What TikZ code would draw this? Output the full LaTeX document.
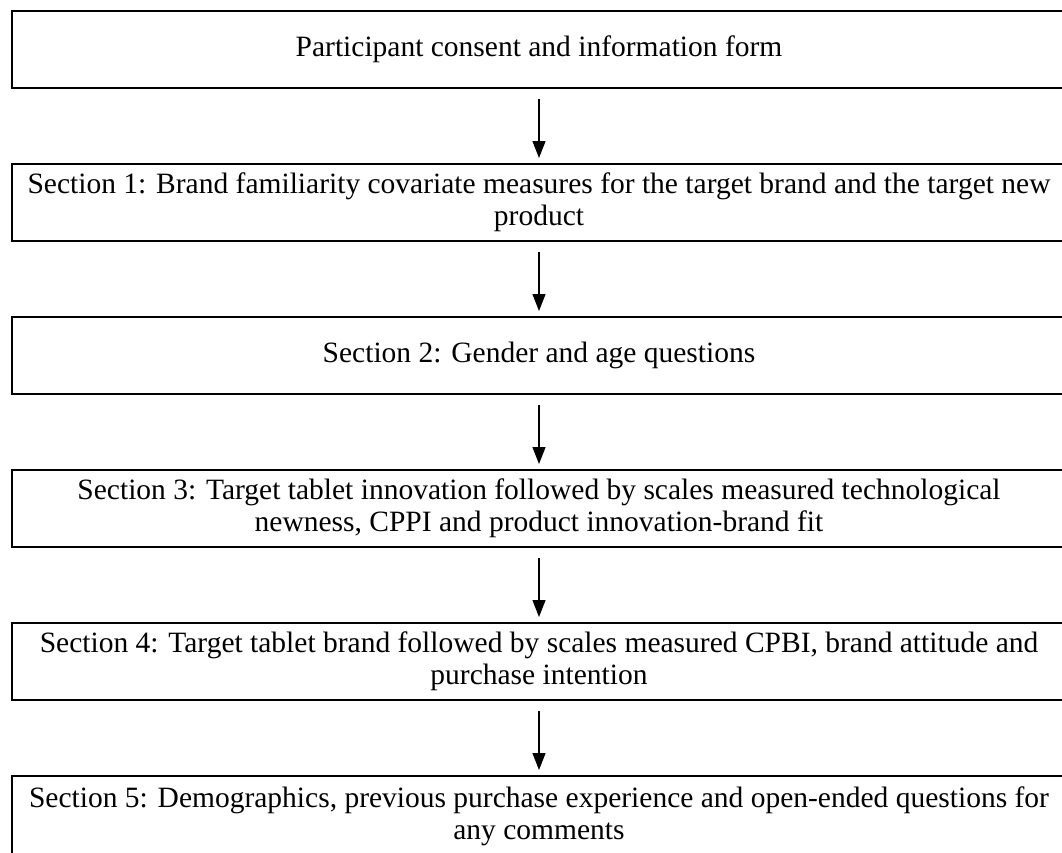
\documentclass[tikz,border=0pt]{standalone}
\usepackage{fontspec}
\setmainfont{Liberation Serif}
\usetikzlibrary{arrows.meta}
\begin{document}
\begin{tikzpicture}[x=1pt,y=-1pt,
  stagebox/.style={draw=black, line width=2pt, rectangle, anchor=north west,
    minimum width=1054pt, minimum height=77pt, inner sep=0pt, align=center,
    font=\fontsize{29.5}{32}\selectfont},
  flowarrow/.style={draw=black, line width=1.3pt,
    -{Triangle[length=17pt,width=13pt]}}]
  \useasboundingbox (0,0) rectangle (1062,852);
  \clip (0,0) rectangle (1062,852);
  % questionnaire stages, top to bottom
  \node[stagebox] (b1) at (11,10)  {Participant consent and information form};
  \node[stagebox] (b2) at (11,163) {Section 1: Brand familiarity covariate measures for the target brand and the target new\\product};
  \node[stagebox] (b3) at (11,316) {Section 2: Gender and age questions};
  \node[stagebox] (b4) at (11,469) {Section 3: Target tablet innovation followed by scales measured technological\\newness, CPPI and product innovation-brand fit};
  \node[stagebox] (b5) at (11,622) {Section 4: Target tablet brand followed by scales measured CPBI, brand attitude and\\purchase intention};
  \node[stagebox, minimum height=80pt] (b6) at (11,775) {Section 5: Demographics, previous purchase experience and open-ended questions for\\any comments};
  % connectors between consecutive stages
  \foreach \a/\b in {b1/b2, b2/b3, b3/b4, b4/b5, b5/b6}
    \draw[flowarrow] ([yshift=-10pt]\a.south) -- ([yshift=5pt]\b.north);
\end{tikzpicture}
\end{document}
